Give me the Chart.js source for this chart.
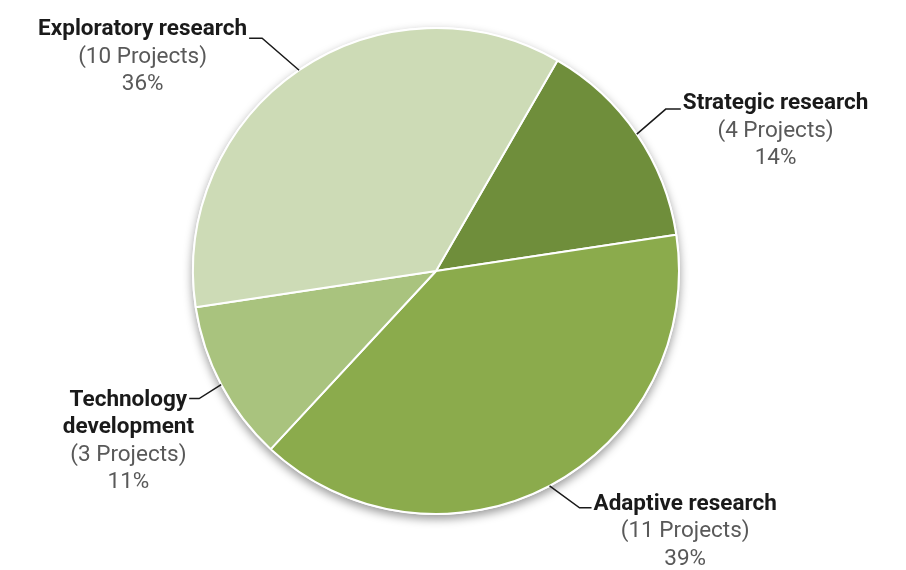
<!DOCTYPE html>
<html>
<head>
<meta charset="utf-8">
<script src="https://cdn.jsdelivr.net/npm/chart.js@4"></script>
<style>
  html, body { margin: 0; padding: 0; background: #fff; }
  #wrap { width: 906px; height: 570px; position: relative; }
</style>
</head>
<body>
<div id="wrap"><canvas id="pieChart"></canvas></div>
<script>
// research categories, in drawing order (clockwise from the top right)
const categories = ['Strategic research', 'Adaptive research', ['Technology', 'development'], 'Exploratory research'];
const projects = [4, 11, 3, 10];
const sliceColors = ['#6f8e3b', '#8bab4c', '#a9c37e', '#cddbb6'];

// where each leader line bends and how far its tail runs, relative to the slice edge
const leaders = [
    { bend: [29, -25], run: 15, base: 0 },
    { bend: [30, 22], run: 12, base: 2 },
    { bend: [-22, 14], run: -10, base: 7 },
    { bend: [-37, -32], run: -13, base: -3 }
];

const boldFont = 'bold 22.5px Roboto, "Liberation Sans", sans-serif';
const plainFont = '22.5px Roboto, "Liberation Sans", sans-serif';
const lineGap = 27.5;

// soft grey halo under the pie
const pieShadow = {
    id: 'pieShadow',
    beforeDatasetsDraw(chart) {
        const arc = chart.getDatasetMeta(0).data[0];
        if (!arc) return;
        const ctx = chart.ctx;
        ctx.save();
        ctx.shadowColor = 'rgba(0, 0, 0, 0.4)';
        ctx.shadowBlur = 10;
        ctx.shadowOffsetY = 4;
        ctx.fillStyle = '#fff';
        ctx.beginPath();
        ctx.arc(arc.x, arc.y, arc.outerRadius + 1, 0, Math.PI * 2);
        ctx.fill();
        ctx.restore();
    }
};

// callout labels with elbow leader lines
const calloutLabels = {
    id: 'calloutLabels',
    afterDatasetsDraw(chart) {
        const ctx = chart.ctx;
        const meta = chart.getDatasetMeta(0);
        const data = chart.data.datasets[0].data;
        const total = data.reduce((a, b) => a + b, 0);

        meta.data.forEach((arc, i) => {
            const mid = (arc.startAngle + arc.endAngle) / 2;
            const px = arc.x + Math.cos(mid) * arc.outerRadius;
            const py = arc.y + Math.sin(mid) * arc.outerRadius;
            const lay = leaders[i];
            const bx = px + lay.bend[0];
            const by = py + lay.bend[1];
            const ex = bx + lay.run;

            ctx.save();
            ctx.strokeStyle = '#1a1a1a';
            ctx.lineWidth = 1.5;
            ctx.beginPath();
            ctx.moveTo(px, py);
            ctx.lineTo(bx, by);
            ctx.lineTo(ex, by);
            ctx.stroke();

            const name = chart.data.labels[i];
            const nameLines = Array.isArray(name) ? name : [name];
            const value = data[i];
            const pct = Math.round(value / total * 100);

            ctx.font = boldFont;
            const w = ctx.measureText(nameLines[0]).width;
            const right = lay.run > 0;
            const cx = right ? ex + 2 + w / 2 : ex - 2 - w / 2;
            let y = by + lay.base;

            ctx.textAlign = 'center';
            ctx.textBaseline = 'alphabetic';
            ctx.fillStyle = '#1a1a1a';
            nameLines.forEach(line => {
                ctx.fillText(line, cx, y);
                y += lineGap;
            });
            ctx.font = plainFont;
            ctx.fillStyle = '#595959';
            ctx.fillText('(' + value + ' Projects)', cx, y);
            y += lineGap;
            ctx.fillText(pct + '%', cx, y);
            ctx.restore();
        });
    }
};

new Chart(document.getElementById('pieChart'), {
    type: 'pie',
    data: {
        labels: categories,
        datasets: [{
            data: projects,
            backgroundColor: sliceColors,
            borderColor: '#ffffff',
            borderWidth: 2
        }]
    },
    options: {
        responsive: true,
        maintainAspectRatio: false,
        animation: false,
        rotation: 30,
        layout: { padding: { left: 192, right: 226, top: 27, bottom: 55 } },
        plugins: {
            legend: { display: false },
            tooltip: { enabled: false }
        }
    },
    plugins: [pieShadow, calloutLabels]
});
</script>
</body>
</html>
